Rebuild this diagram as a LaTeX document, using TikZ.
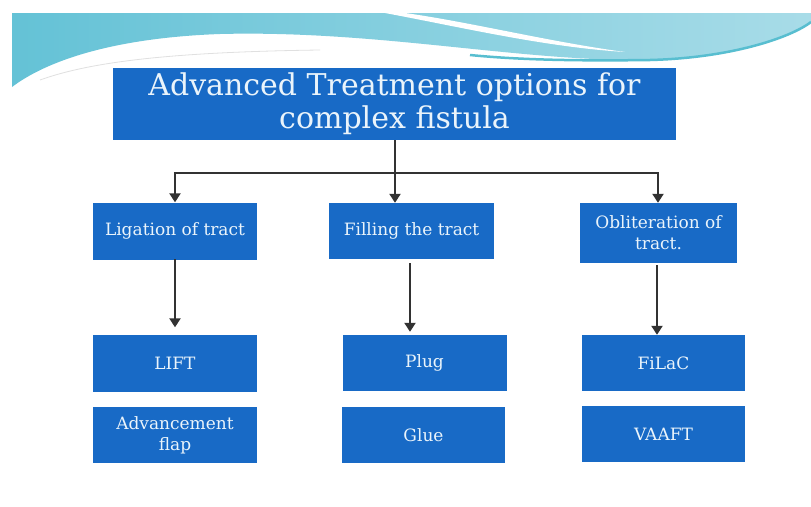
\documentclass[tikz,border=0pt]{standalone}
\usepackage{fontspec}
\setmainfont{DejaVu Serif}
\usetikzlibrary{arrows.meta,calc}
\definecolor{boxblue}{RGB}{24,106,198}
\definecolor{boxtext}{RGB}{234,244,251}
\definecolor{arrowgray}{RGB}{50,50,50}
\definecolor{waveL}{RGB}{100,194,214}
\definecolor{waveM}{RGB}{126,196,220}
\definecolor{waveR}{RGB}{168,220,232}
\definecolor{waveEdge}{RGB}{88,190,208}
\begin{document}
\begin{tikzpicture}[x=1pt,y=-1pt,
  bluebox/.style={rectangle,fill=boxblue,text=boxtext,align=center,inner sep=0pt,
    font=\fontsize{17}{21}\selectfont},
  arr/.style={draw=arrowgray,line width=2.3pt,-{Triangle[length=9pt,width=11pt]}},
  conn/.style={draw=arrowgray,line width=2.3pt}]
\useasboundingbox (0,0) rectangle (811,506);
\fill[white] (0,0) rectangle (811,506);
% top wave
\shade[left color=waveL,middle color=waveM,right color=waveR]
  (12,13) -- (811,13) -- (811,22)
  .. controls (790,38) and (730,58) .. (650,60)
  .. controls (520,62) and (380,30) .. (220,34)
  .. controls (110,38) and (45,62) .. (12,87) -- cycle;
\fill[white] (385,13) -- (405,13)
  .. controls (470,22) and (550,42) .. (625,52)
  .. controls (545,47) and (465,28) .. (385,13) -- cycle;
\draw[waveEdge,line width=2.5pt] (470,55) .. controls (520,60) and (580,61) .. (650,60)
  .. controls (730,58) and (790,38) .. (811,22);
\draw[black!12,line width=0.8pt] (40,80) .. controls (90,62) and (170,52) .. (320,50);
% nodes
\node[bluebox,minimum width=563pt,minimum height=72pt,
  font=\fontsize{30}{33}\selectfont] (title) at (394.5,104)
  {Advanced Treatment options for\\complex fistula};
\node[bluebox,minimum width=164pt,minimum height=57pt] (lig) at (175,231) {Ligation of tract};
\node[bluebox,minimum width=165pt,minimum height=56pt] (fill) at (411.5,231) {Filling the tract};
\node[bluebox,minimum width=157pt,minimum height=60pt] (obl) at (658.5,233) {Obliteration of\\tract.};
\node[bluebox,minimum width=164pt,minimum height=57pt] (lift) at (175,363) {LIFT};
\node[bluebox,minimum width=164pt,minimum height=56pt] (plug) at (424.5,363) {Plug};
\node[bluebox,minimum width=163pt,minimum height=56pt] (filac) at (663.5,363) {FiLaC};
\node[bluebox,minimum width=164pt,minimum height=56pt] (adv) at (175,435) {Advancement\\flap};
\node[bluebox,minimum width=163pt,minimum height=56pt] (glue) at (423.5,435) {Glue};
\node[bluebox,minimum width=163pt,minimum height=56pt] (vaaft) at (663.5,434) {VAAFT};
% connectors
\coordinate (bus) at (395,173);
\coordinate (lbus) at (175,173);
\coordinate (rbus) at (658,173);
\draw[conn] (title.south -| bus) -- (bus);
\draw[conn] ([xshift=-1.15pt]lbus) -- ([xshift=1.15pt]rbus);
\draw[arr] (lbus) -- (lig.north -| lbus);
\draw[arr] (bus) -- (fill.north -| bus);
\draw[arr] (rbus) -- (obl.north -| rbus);
\coordinate (la) at (175,259);
\coordinate (fa) at (410,263);
\coordinate (oa) at (657,265);
\draw[arr] (la) -- ([yshift=7pt]lift.north -| la);
\draw[arr] (fa) -- ([yshift=3pt]plug.north -| fa);
\draw[arr] (oa) -- (filac.north -| oa);
\end{tikzpicture}
\end{document}
